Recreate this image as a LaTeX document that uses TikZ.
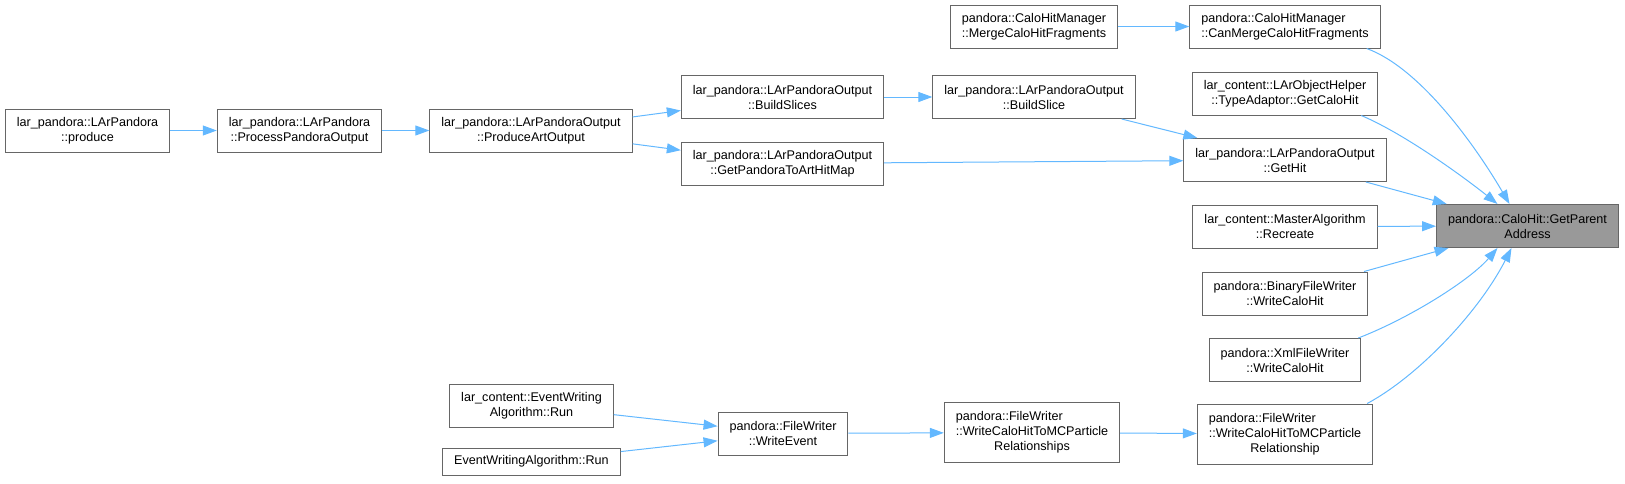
\documentclass[tikz,border=0pt]{standalone}
\usepackage{fontspec}
\setmainfont{Liberation Sans}
\usepackage{tikz}
\usetikzlibrary{arrows.meta}
\definecolor{boxgray}{HTML}{666666}
\definecolor{rootgray}{HTML}{999999}
\definecolor{callblue}{HTML}{63B8FF}

\begin{document}
\begin{tikzpicture}[x=1pt, y=-1pt, fn/.style={rectangle, draw=boxgray, line width=1pt, inner xsep=11.5pt, inner ysep=2pt, minimum height=43pt, align=center, font=\fontsize{12.6}{15}\selectfont}, root/.style={fn, fill=rootgray}, call/.style={draw=callblue, line width=1pt, -{Triangle[length=14pt, width=10pt]}}]
    \useasboundingbox (0,0) rectangle (1625,483);

    \node[fn] (produce) at (87.5,130.5) {lar\_pandora::LArPandora\\::produce};
    \node[fn] (process) at (299.5,130.5) {lar\_pandora::LArPandora\\::ProcessPandoraOutput};
    \node[fn] (produceart) at (531,130.5) {lar\_pandora::LArPandoraOutput\\::ProduceArtOutput};
    \node[fn] (buildslices) at (782.5,97) {lar\_pandora::LArPandoraOutput\\::BuildSlices};
    \node[fn] (hitmap) at (782.5,163.5) {lar\_pandora::LArPandoraOutput\\::GetPandoraToArtHitMap};
    \node[fn] (buildslice) at (1034,97) {lar\_pandora::LArPandoraOutput\\::BuildSlice};
    \node[fn, align=left] (merge) at (1034,26.5) {pandora::CaloHitManager\\::MergeCaloHitFragments};
    \node[fn, align=left] (canmerge) at (1285,26.5) {pandora::CaloHitManager\\::CanMergeCaloHitFragments};
    \node[fn] (typeadaptor) at (1285,93.5) {lar\_content::LArObjectHelper\\::TypeAdaptor::GetCaloHit};
    \node[fn] (gethit) at (1285,160) {lar\_pandora::LArPandoraOutput\\::GetHit};
    \node[fn] (recreate) at (1285,226.5) {lar\_content::MasterAlgorithm\\::Recreate};
    \node[root] (parent) at (1527.5,226) {pandora::CaloHit::GetParent\\Address};
    \node[fn] (binary) at (1285,293.5) {pandora::BinaryFileWriter\\::WriteCaloHit};
    \node[fn] (xml) at (1285,360) {pandora::XmlFileWriter\\::WriteCaloHit};
    \node[fn, minimum height=60pt] (rel) at (1285,434) {\begin{tabular}{@{}l@{}}pandora::FileWriter\\::WriteCaloHitToMCParticle\\\multicolumn{1}{@{}c@{}}{Relationship}\end{tabular}};
    \node[fn, minimum height=60pt] (rels) at (1032,432.5) {\begin{tabular}{@{}l@{}}pandora::FileWriter\\::WriteCaloHitToMCParticle\\\multicolumn{1}{@{}c@{}}{Relationships}\end{tabular}};
    \node[fn] (writeevent) at (783,433.5) {pandora::FileWriter\\::WriteEvent};
    \node[fn] (lcrun) at (531.5,405.5) {lar\_content::EventWriting\\Algorithm::Run};
    \node[fn, minimum height=27pt] (ewrun) at (531.5,461.5) {EventWritingAlgorithm::Run};

    \draw[call] (produce) -- (process);
    \draw[call] (process) -- (produceart);
    \draw[call] (produceart) -- (buildslices);
    \draw[call] (produceart) -- (hitmap);
    \draw[call] (buildslices) -- (buildslice);
    \draw[call] (buildslice) -- (gethit);
    \draw[call] (hitmap) -- (gethit);
    \draw[call] (merge) -- (canmerge);
    \draw[call] ([xshift=-14pt]canmerge.south east) .. controls (1420,68) and (1475,145) .. ([xshift=-18pt]parent.north);
    \draw[call] ([xshift=-17pt]typeadaptor.south east) .. controls (1405,134) and (1465,178) .. ([xshift=-30pt]parent.north);
    \draw[call] (gethit) -- (parent);
    \draw[call] (recreate) -- (parent);
    \draw[call] (binary) -- (parent);
    \draw[call] ([xshift=-3pt]xml.north east) .. controls (1410,318) and (1470,280) .. ([xshift=-30pt]parent.south);
    \draw[call] ([xshift=-6pt]rel.north east) .. controls (1420,375) and (1480,310) .. ([xshift=-16pt]parent.south);
    \draw[call] (lcrun) -- (writeevent);
    \draw[call] (ewrun) -- (writeevent);
    \draw[call] (writeevent) -- (rels);
    \draw[call] (rels) -- (rel);

\end{tikzpicture}
\end{document}
